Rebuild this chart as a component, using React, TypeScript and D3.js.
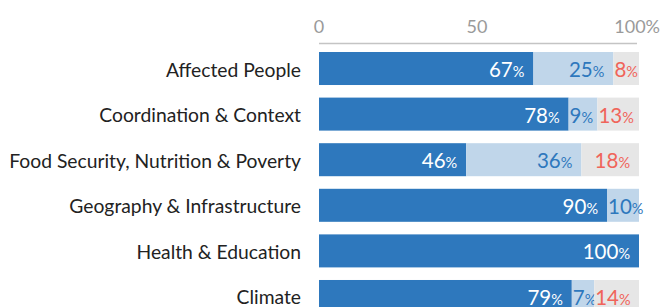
import React, { useEffect, useRef } from 'react';
import * as d3 from 'd3';

const categories = [
  'Affected People',
  'Coordination & Context',
  'Food Security, Nutrition & Poverty',
  'Geography & Infrastructure',
  'Health & Education',
  'Climate',
];
const darkValues = [67, 78, 46, 90, 100, 79];
const lightValues = [25, 9, 36, 10, 0, 7];
const greyValues = [8, 13, 18, 0, 0, 14];
const axisTicks = [0, 50, 100];

const colors = ['#2e78bd', '#c0d6ea', '#e6e6e6'];
const labelColors = ['#ffffff', '#2e78bd', '#f0645a'];

const App = () => {
  const svgRef = useRef<SVGSVGElement>(null);

  useEffect(() => {
    const w = 661;
    const h = 307;
    const font = 'Lato, sans-serif';

    const svg = d3.select(svgRef.current).attr('width', w).attr('height', h);
    svg.selectAll('*').remove();

    const x = d3.scaleLinear().domain([0, 100]).range([319, 639]);
    // step ~45.6px, bar ~33px
    const y = d3.scaleBand<string>().domain(categories).range([52, 313]).paddingInner(0.276).paddingOuter(0);

    // axis on top
    svg.append('line')
      .attr('x1', x(0)).attr('x2', 637)
      .attr('y1', 43.5).attr('y2', 43.5)
      .attr('stroke', '#c4c4c4').attr('stroke-width', 1.5);

    svg.selectAll('text.tick')
      .data(axisTicks)
      .enter()
      .append('text')
      .attr('class', 'tick')
      .attr('x', (d) => (d === 100 ? 660 : x(d) - (d === 50 ? 2 : 0)))
      .attr('y', 33)
      .attr('text-anchor', (d) => (d === 100 ? 'end' : 'middle'))
      .attr('font-family', font)
      .attr('font-size', 18)
      .attr('fill', '#9a9a9a')
      .text((d) => (d === 100 ? '100%' : String(d)));

    // category labels
    svg.selectAll('text.cat')
      .data(categories)
      .enter()
      .append('text')
      .attr('class', 'cat')
      .attr('x', 301)
      .attr('y', (d) => y(d)! + y.bandwidth() / 2 + 8)
      .attr('text-anchor', 'end')
      .attr('font-family', font)
      .attr('font-size', 19.3)
      .attr('fill', '#222')
      .text((d) => d);

    const rows = categories.map((c, i) => ({ cat: c, dark: darkValues[i], light: lightValues[i], grey: greyValues[i] }));
    const stack = d3.stack<any>().keys(['dark', 'light', 'grey'])(rows);

    stack.forEach((layer, li) => {
      const g = svg.append('g');
      g.selectAll('rect')
        .data(layer)
        .enter()
        .append('rect')
        .attr('x', (d) => x(d[0]))
        .attr('y', (d) => y(d.data.cat)!)
        .attr('width', (d) => x(d[1]) - x(d[0]))
        .attr('height', y.bandwidth())
        .attr('fill', colors[li]);

      layer.forEach((d) => {
        const v = d[1] - d[0];
        if (v <= 0) return;
        const t = g.append('text')
          .attr('y', y(d.data.cat)! + y.bandwidth() / 2 + 8.5)
          .attr('font-family', font)
          .attr('fill', labelColors[li])
          .attr('text-anchor', 'start');
        t.append('tspan').attr('font-size', 20.5).text(String(v));
        t.append('tspan').attr('font-size', 14.5).text('%');
        const tw = (t.node() as SVGTextElement).getComputedTextLength();
        const segStart = x(d[0]);
        const segEnd = x(d[1]);
        let sx = segEnd - 9 - tw;
        if (sx < segStart + 1) sx = segStart + 1;
        t.attr('x', sx);
      });
    });
  }, []);

  return <svg ref={svgRef} style={{ position: 'absolute', left: 0, top: 0 }}></svg>;
};

export default App;
